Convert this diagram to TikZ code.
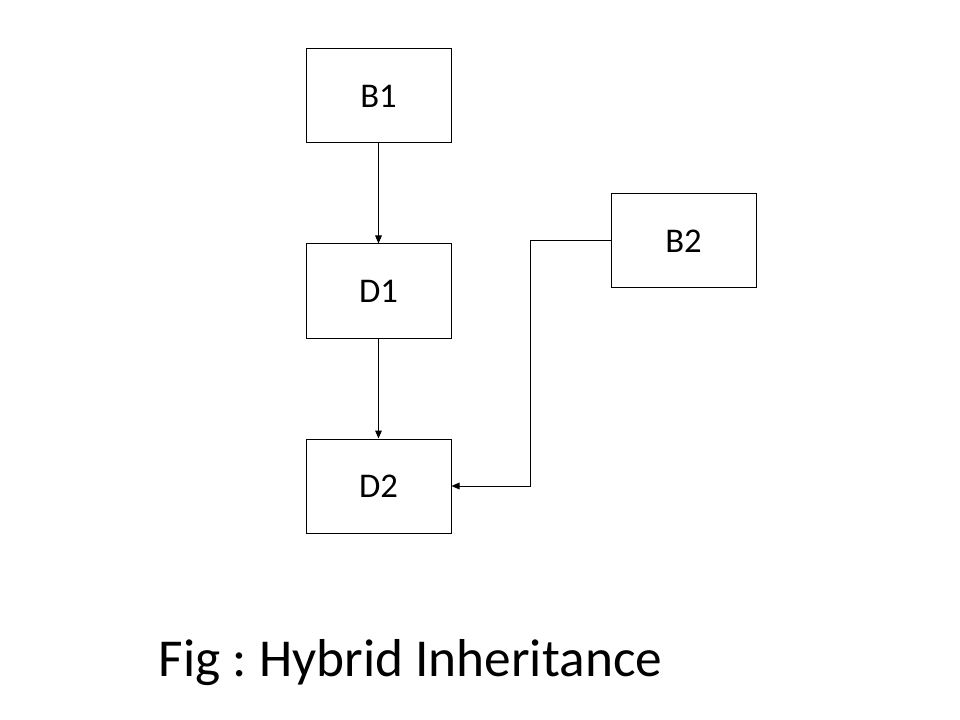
\documentclass[tikz,border=0pt]{standalone}
\usepackage{fontspec}
\setmainfont{Carlito}
\usetikzlibrary{arrows.meta}
\frenchspacing

\begin{document}
\begin{tikzpicture}[x=0.75pt,y=0.75pt,yscale=-1,xscale=1,
  classbox/.style={draw, line width=0.75pt, minimum width=108.75pt, minimum height=70.5pt, inner sep=0pt, font=\fontsize{26}{30}\selectfont},
  link/.style={line width=0.75pt, -{Triangle[length=6pt,width=5pt]}}]
\useasboundingbox (0,0) rectangle (960,720);

% Classes
\node[classbox] (b1) at (378.5,96) {B1};
\node[classbox] (d1) at (378.5,291) {D1};
\node[classbox] (d2) at (378.5,486) {D2};
\node[classbox] (b2) at (683.5,241) {B2};

% Inheritance links
\draw[link] (b1.south) -- (d1.north);
\draw[link] (d1.south) -- (d2.north);
\draw[link] (b2.west) -- ++(-80,0) |- (d2.east);

% Caption
\node[anchor=base, font=\fontsize{40}{48}\selectfont] (caption) at (410.5,676) {Fig : Hybrid Inheritance};

\end{tikzpicture}
\end{document}
